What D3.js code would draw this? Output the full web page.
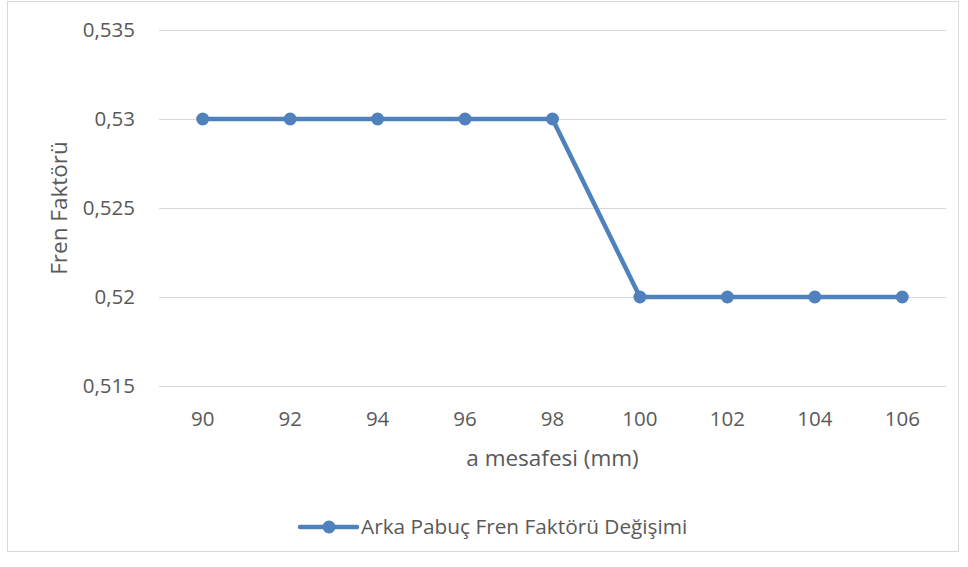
<!DOCTYPE html>
<html>
<head>
<meta charset="utf-8">
<script src="https://cdn.jsdelivr.net/npm/d3@7"></script>
<style>
  html, body { margin: 0; padding: 0; background: #fff; }
  svg { display: block; font-family: "Open Sans", sans-serif; }
</style>
</head>
<body>
<svg id="chart" width="968" height="567"></svg>
<script>
// Rear shoe brake factor versus distance a
const categories = ["90", "92", "94", "96", "98", "100", "102", "104", "106"];
const brakeFactor = [0.53, 0.53, 0.53, 0.53, 0.53, 0.52, 0.52, 0.52, 0.52];
const yTicks = [0.515, 0.52, 0.525, 0.53, 0.535];
const seriesName = "Arka Pabuç Fren Faktörü Değişimi";
const xTitle = "a mesafesi (mm)";
const yTitle = "Fren Faktörü";

const svg = d3.select("#chart");
const textColor = "#595959";
const gridColor = "#d9d9d9";
const lineColor = "#4f81bd";
const tickFont = 20.5;
const titleFont = 22.5;

// outer frame
svg.append("rect")
  .attr("x", 7.5).attr("y", 1.5)
  .attr("width", 951).attr("height", 550)
  .attr("fill", "#fff").attr("stroke", gridColor).attr("stroke-width", 1);

const margin = { left: 159, right: 946, top: 30, bottom: 386 };

const x = d3.scaleBand().domain(categories).range([margin.left, margin.right]);
const y = d3.scaleLinear().domain([0.515, 0.535]).range([margin.bottom, margin.top]);

const fmt = v => d3.format(".3~f")(v).replace(".", ",");

// horizontal gridlines with value labels
svg.append("g")
  .attr("transform", `translate(${margin.left},0)`)
  .call(d3.axisLeft(y).tickValues(yTicks).tickSize(-(margin.right - margin.left)).tickFormat(fmt).tickPadding(24))
  .call(g => g.select(".domain").remove())
  .call(g => g.selectAll(".tick line").attr("stroke", gridColor).attr("stroke-width", 1))
  .call(g => g.selectAll(".tick text").attr("fill", textColor).attr("font-size", tickFont).attr("font-family", "Open Sans"));

// category axis labels
svg.append("g")
  .attr("transform", `translate(0,${margin.bottom})`)
  .call(d3.axisBottom(x).tickSize(0).tickPadding(25))
  .call(g => g.select(".domain").remove())
  .call(g => g.selectAll(".tick text").attr("fill", textColor).attr("font-size", tickFont).attr("font-family", "Open Sans"));

// series line
const cx = d => x(d) + x.bandwidth() / 2;
const line = d3.line()
  .x((d, i) => cx(categories[i]))
  .y(d => y(d));

svg.append("path")
  .datum(brakeFactor)
  .attr("fill", "none")
  .attr("stroke", lineColor)
  .attr("stroke-width", 4.5)
  .attr("stroke-linejoin", "round")
  .attr("d", line);

svg.append("g").selectAll("circle")
  .data(brakeFactor)
  .join("circle")
  .attr("cx", (d, i) => cx(categories[i]))
  .attr("cy", d => y(d))
  .attr("r", 6.5)
  .attr("fill", lineColor);

// axis titles
svg.append("text")
  .attr("x", (margin.left + margin.right) / 2)
  .attr("y", 466)
  .attr("text-anchor", "middle")
  .attr("fill", textColor)
  .attr("font-size", titleFont)
  .text(xTitle);

svg.append("text")
  .attr("transform", `translate(67,${(margin.top + margin.bottom) / 2}) rotate(-90)`)
  .attr("text-anchor", "middle")
  .attr("fill", textColor)
  .attr("font-size", titleFont)
  .text(yTitle);

// legend
const lg = svg.append("g").attr("transform", "translate(300,527)");
lg.append("line")
  .attr("x1", 0).attr("x2", 57).attr("y1", 0).attr("y2", 0)
  .attr("stroke", lineColor).attr("stroke-width", 4.5).attr("stroke-linecap", "round");
lg.append("circle").attr("cx", 29).attr("cy", 0).attr("r", 6.5).attr("fill", lineColor);
lg.append("text")
  .attr("x", 61).attr("y", 0).attr("dy", "0.35em")
  .attr("fill", textColor)
  .attr("font-size", 20.8)
  .text(seriesName);
</script>
</body>
</html>
